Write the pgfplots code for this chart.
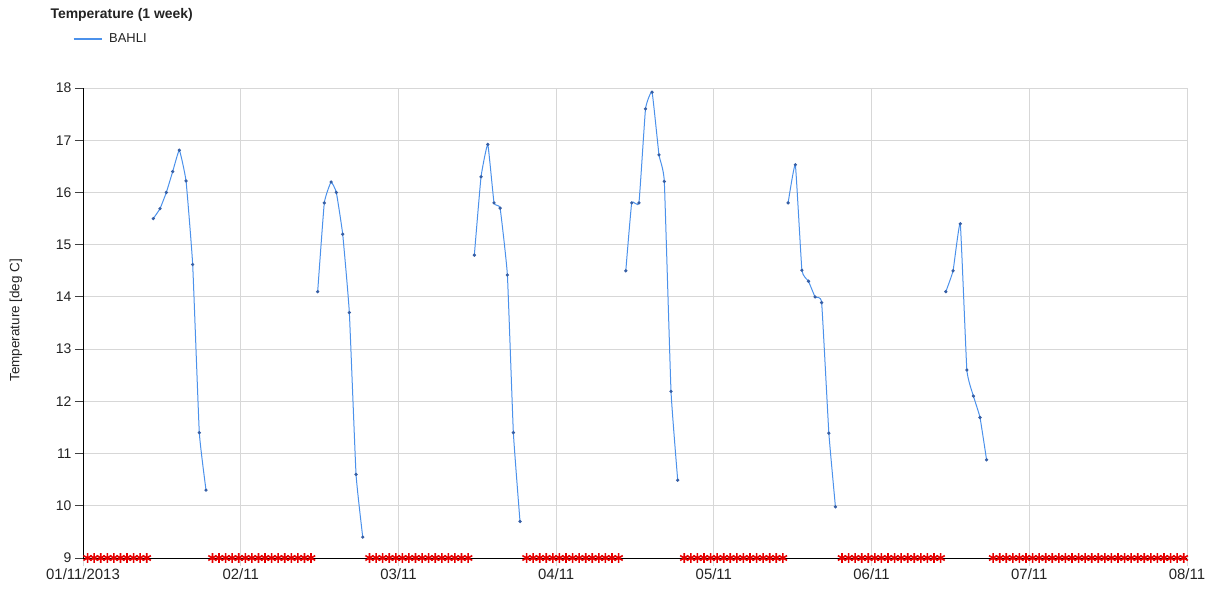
\documentclass[border=0pt]{standalone}
\usepackage{fontspec}
\setmainfont{Liberation Sans}
\usepackage{pgfplots}
\usepackage{pgfplotstable}
\pgfplotsset{compat=1.18}
\definecolor{lineblue}{RGB}{75,145,235}
\definecolor{markblue}{RGB}{55,95,165}
\definecolor{gridgray}{RGB}{215,215,215}
\definecolor{txt}{RGB}{35,35,35}
\definecolor{redmark}{RGB}{230,0,0}

\pgfplotstableread{
x y
10.70 15.50
11.72 15.69
12.68 16.00
13.65 16.40
14.66 16.81
15.68 16.22
16.69 14.62
17.70 11.40
18.72 10.30
}\dayone
\pgfplotstableread{
x y
35.71 14.10
36.72 15.80
37.75 16.20
38.55 16.00
39.52 15.20
40.53 13.70
41.55 10.60
42.57 9.40
}\daytwo
\pgfplotstableread{
x y
59.55 14.80
60.57 16.30
61.60 16.92
62.55 15.80
63.47 15.70
64.58 14.42
65.49 11.40
66.50 9.70
}\daythree
\pgfplotstableread{
x y
82.60 14.50
83.50 15.80
84.60 15.80
85.60 17.60
86.60 17.92
87.65 16.72
88.46 16.21
89.48 12.19
90.50 10.49
}\dayfour
\pgfplotstableread{
x y
107.30 15.80
108.40 16.53
109.40 14.51
110.40 14.30
111.40 14.00
112.40 13.89
113.50 11.39
114.50 9.98
}\dayfive
\pgfplotstableread{
x y
131.30 14.10
132.40 14.50
133.50 15.40
134.50 12.60
135.50 12.10
136.50 11.69
137.50 10.88
}\daysix
\pgfplotstableread{
x y
0.7 9
1.7 9
2.7 9
3.7 9
4.7 9
5.7 9
6.7 9
7.7 9
8.7 9
9.7 9
19.7 9
20.7 9
21.7 9
22.7 9
23.7 9
24.7 9
25.7 9
26.7 9
27.7 9
28.7 9
29.7 9
30.7 9
31.7 9
32.7 9
33.7 9
34.7 9
43.6 9
44.6 9
45.6 9
46.6 9
47.6 9
48.6 9
49.6 9
50.6 9
51.6 9
52.6 9
53.6 9
54.6 9
55.6 9
56.6 9
57.6 9
58.6 9
67.5 9
68.5 9
69.5 9
70.5 9
71.5 9
72.5 9
73.5 9
74.5 9
75.5 9
76.5 9
77.5 9
78.5 9
79.5 9
80.5 9
81.5 9
91.5 9
92.5 9
93.5 9
94.5 9
95.5 9
96.5 9
97.5 9
98.5 9
99.5 9
100.5 9
101.5 9
102.5 9
103.5 9
104.5 9
105.5 9
106.5 9
115.5 9
116.5 9
117.5 9
118.5 9
119.5 9
120.5 9
121.5 9
122.5 9
123.5 9
124.5 9
125.5 9
126.5 9
127.5 9
128.5 9
129.5 9
130.5 9
138.5 9
139.5 9
140.5 9
141.5 9
142.5 9
143.5 9
144.5 9
145.5 9
146.5 9
147.5 9
148.5 9
149.5 9
150.5 9
151.5 9
152.5 9
153.5 9
154.5 9
155.5 9
156.5 9
157.5 9
158.5 9
159.5 9
160.5 9
161.5 9
162.5 9
163.5 9
164.5 9
165.5 9
166.5 9
167.5 9
}\missing

\begin{document}
\begin{tikzpicture}
\useasboundingbox (-83bp,-32bp) rectangle (1127bp,558bp);
\begin{axis}[
  at={(0,0)}, anchor=south west,
  scale only axis, width=1104bp, height=470bp,
  xmin=0, xmax=168, ymin=9, ymax=18,
  axis x line*=bottom, axis y line*=left,
  axis line style={-, black, line width=0.9bp},
  xtick={0,24,48,72,96,120,144,168},
  xticklabels={01/11/2013,02/11,03/11,04/11,05/11,06/11,07/11,08/11},
  ytick={9,10,11,12,13,14,15,16,17,18},
  grid=major,
  grid style={gridgray, line width=0.8bp},
  tick align=outside,
  major tick length=8bp,
  x tick style={gridgray, line width=0.8bp},
  y tick style={black!75, line width=0.8bp},
  /pgf/number format/assume math mode=true,
  xticklabel style={font=\fontsize{15}{18}\selectfont, text=txt, yshift=1bp},
  yticklabel style={font=\fontsize{14}{17}\selectfont, text=txt},
  ylabel={Temperature [deg C]},
  ylabel style={font=\fontsize{13.5}{16}\selectfont, text=txt, at={(axis description cs:-0.0607,0.506)}, anchor=center},
  legend style={draw=none, fill=none, at={(axis description cs:-0.0095,1.104)}, anchor=west,
    font=\fontsize{13}{15}\selectfont, text=txt, inner sep=0pt, row sep=0pt,
    nodes={inner sep=1bp}},
  legend cell align=left,
  legend image code/.code={\draw[lineblue, line width=2bp] (0bp,0bp) -- (28bp,0bp);
     \path (34bp,0bp);},
  clip=false,
]
\addplot[lineblue, line width=1bp, smooth, tension=0.2, mark=*, mark size=1.1bp,
  mark options={fill=markblue, draw=markblue}] table[x=x,y=y] {\dayone};
\addlegendentry{BAHLI}
\addplot[forget plot, lineblue, line width=1bp, smooth, tension=0.2, mark=*, mark size=1.1bp,
  mark options={fill=markblue, draw=markblue}] table[x=x,y=y] {\daytwo};
\addplot[forget plot, lineblue, line width=1bp, smooth, tension=0.2, mark=*, mark size=1.1bp,
  mark options={fill=markblue, draw=markblue}] table[x=x,y=y] {\daythree};
\addplot[forget plot, lineblue, line width=1bp, smooth, tension=0.2, mark=*, mark size=1.1bp,
  mark options={fill=markblue, draw=markblue}] table[x=x,y=y] {\dayfour};
\addplot[forget plot, lineblue, line width=1bp, smooth, tension=0.2, mark=*, mark size=1.1bp,
  mark options={fill=markblue, draw=markblue}] table[x=x,y=y] {\dayfive};
\addplot[forget plot, lineblue, line width=1bp, smooth, tension=0.2, mark=*, mark size=1.1bp,
  mark options={fill=markblue, draw=markblue}] table[x=x,y=y] {\daysix};
\addplot[forget plot, only marks, mark=asterisk, mark size=4.8bp,
  mark options={redmark, line width=1.6bp}] table[x=x,y=y] {\missing};
\end{axis}
\node[anchor=base west, font=\bfseries\fontsize{14}{17}\selectfont, text=txt] at (-36bp,539bp) {Temperature (1 week)};
\end{tikzpicture}
\end{document}
